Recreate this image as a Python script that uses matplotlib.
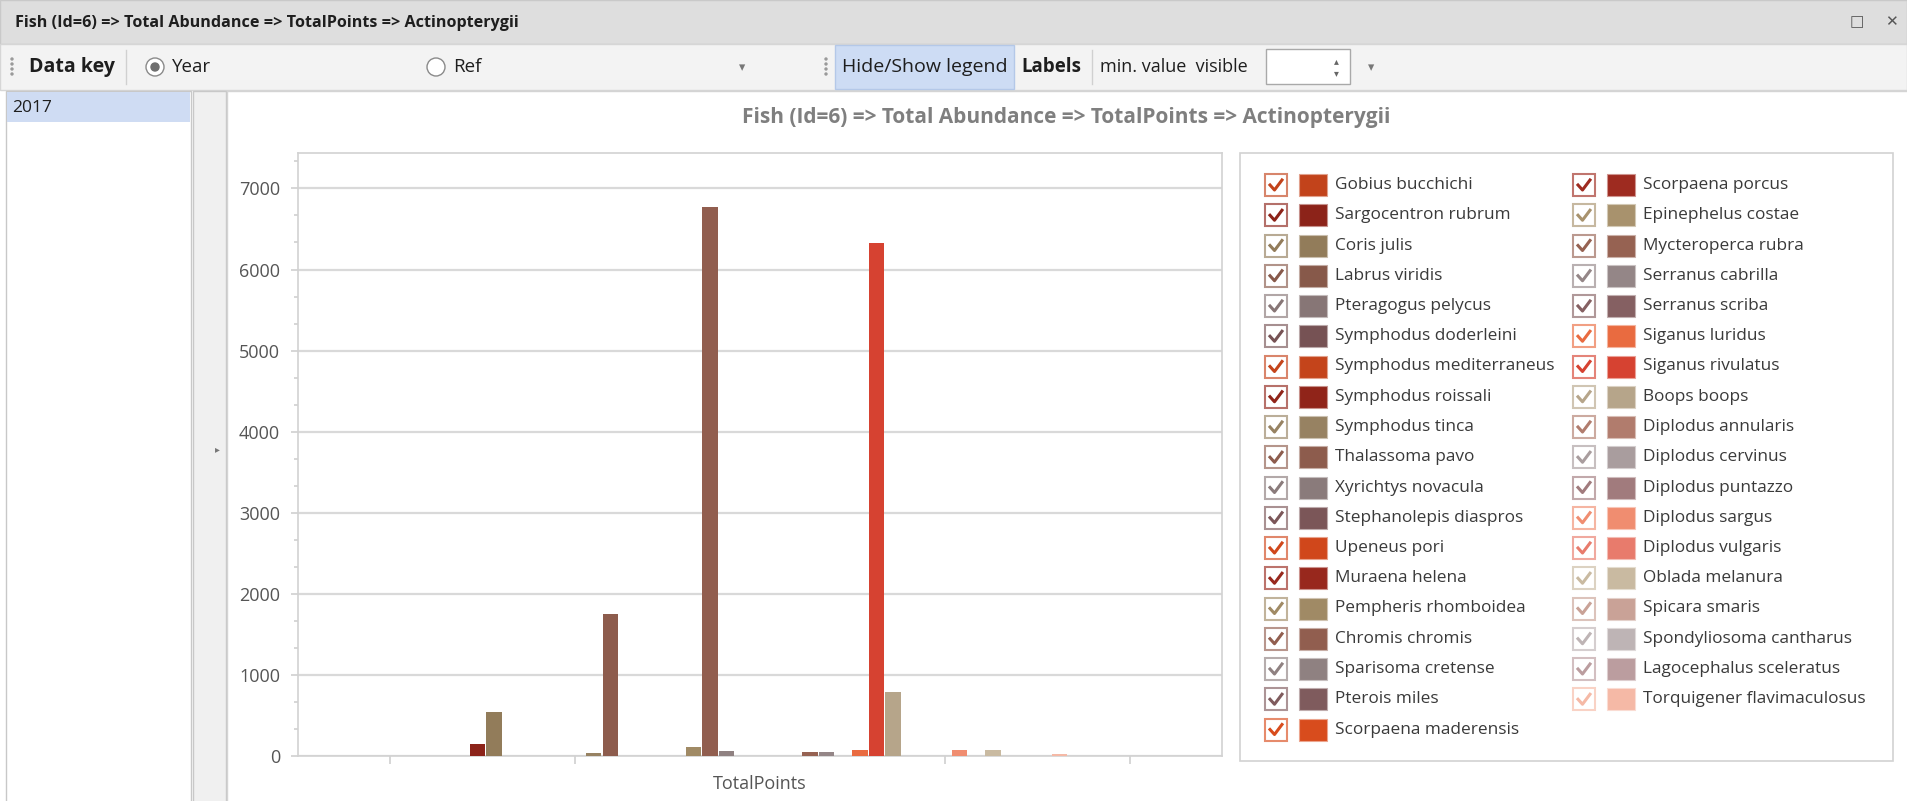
"""
Fish abundance dashboard screenshot, redrawn with matplotlib.

One argument (TotalPoints), 37 species drawn side by side, plus the
surrounding window chrome and the checkbox legend.
"""

import matplotlib
matplotlib.use("Agg")  # headless
import matplotlib.pyplot as plt
from matplotlib.patches import Rectangle, Circle
from matplotlib.lines import Line2D
from matplotlib.colors import to_rgb
import numpy as np


# --- Data ------------------------------------------------------------------

TITLE = "Fish (Id=6) => Total Abundance => TotalPoints => Actinopterygii"
CATEGORY = "TotalPoints"
YEAR = "2017"

species = [
    "Gobius bucchichi", "Sargocentron rubrum", "Coris julis", "Labrus viridis",
    "Pteragogus pelycus", "Symphodus doderleini", "Symphodus mediterraneus",
    "Symphodus roissali", "Symphodus tinca", "Thalassoma pavo",
    "Xyrichtys novacula", "Stephanolepis diaspros", "Upeneus pori",
    "Muraena helena", "Pempheris rhomboidea", "Chromis chromis",
    "Sparisoma cretense", "Pterois miles", "Scorpaena maderensis",
    "Scorpaena porcus", "Epinephelus costae", "Mycteroperca rubra",
    "Serranus cabrilla", "Serranus scriba", "Siganus luridus",
    "Siganus rivulatus", "Boops boops", "Diplodus annularis",
    "Diplodus cervinus", "Diplodus puntazzo", "Diplodus sargus",
    "Diplodus vulgaris", "Oblada melanura", "Spicara smaris",
    "Spondyliosoma cantharus", "Lagocephalus sceleratus",
    "Torquigener flavimaculosus",
]

abundance = [
    0, 150, 540, 0, 0, 0, 0, 0, 35, 1755,
    0, 0, 0, 0, 105, 6775, 65, 0, 0,
    0, 0, 55, 55, 0, 70, 6325, 795, 0, 0, 0,
    70, 0, 70, 0, 0, 0, 25,
]

colors = [
    "#c2431b", "#8c2319", "#927c5a", "#87594a", "#877676", "#765254",
    "#c4441b", "#902419", "#978262", "#8d5c4d", "#8a7b7b", "#7b5658",
    "#d0471b", "#98281d", "#a08a65", "#915e4f", "#8f8181", "#7f5b5d",
    "#d84c1d",
    "#9e2b20", "#a8926d", "#966252", "#948687", "#856062", "#e96b40",
    "#d64231", "#b6a58a", "#b17c6d", "#a99d9e", "#a17b7d", "#f08d70",
    "#e87b6c", "#c9baa1", "#c9a297", "#beb4b5", "#bb9d9f", "#f5b9a6",
]

Y_TICKS = [0, 1000, 2000, 3000, 4000, 5000, 6000, 7000]

W, H = 1907, 801


def lighten(c, amount=0.45):
    r, g, b = to_rgb(c)
    return (r + (1 - r) * amount, g + (1 - g) * amount, b + (1 - b) * amount)


plt.rcParams["font.family"] = ["Open Sans", "DejaVu Sans"]

fig = plt.figure(figsize=(W / 100, H / 100), dpi=100)
fig.patch.set_facecolor("white")

# --- Window chrome (pixel coordinates, y down) -----------------------------

ui = fig.add_axes([0, 0, 1, 1])
ui.set_xlim(0, W)
ui.set_ylim(H, 0)
ui.axis("off")


def rect(x0, y0, x1, y1, fc, ec="none", lw=1.0, z=1):
    ui.add_patch(Rectangle((x0, y0), x1 - x0, y1 - y0, facecolor=fc,
                           edgecolor=ec, linewidth=lw, zorder=z))


# title bar + toolbar
rect(0, 0, W, 44, "#dedede", ec="#c9c9c9")
rect(0, 44, W, 90, "#f3f3f3", ec="#d6d6d6")
ui.text(15, 23, TITLE, fontsize=11.6, fontweight="bold", color="#1e1e1e",
        va="center", ha="left")
ui.text(1857, 22, "□", fontsize=11, color="#555555", va="center", ha="center",
        family="DejaVu Sans")
ui.text(1891, 22, "✕", fontsize=11, color="#555555", va="center", ha="center",
        family="DejaVu Sans")

for gx in (12, 826):
    for dy in (-8, -3, 2, 7):
        ui.add_patch(Circle((gx, 67 + dy), 1.0, color="#9a9a9a", zorder=2))

ui.text(29, 67, "Data key", fontsize=14, fontweight="bold", color="#1e1e1e",
        va="center")
ui.plot([126, 126], [50, 84], color="#d0d0d0", lw=1)

ui.add_patch(Circle((155, 67), 9, facecolor="white", edgecolor="#8a8a8a",
                    lw=1, zorder=2))
ui.add_patch(Circle((155, 67), 4, color="#6f6f6f", zorder=3))
ui.text(172, 67, "Year", fontsize=13.5, color="#1e1e1e", va="center")

ui.add_patch(Circle((436, 67), 9, facecolor="white", edgecolor="#8a8a8a",
                    lw=1, zorder=2))
ui.text(453, 67, "Ref", fontsize=13.5, color="#1e1e1e", va="center")
ui.text(742, 68, "▾", fontsize=9, color="#777777", va="center", ha="center",
        family="DejaVu Sans")

rect(835, 45, 1014, 89, "#cddcf4", ec="#b4c8e8", z=1)
ui.text(842, 67, "Hide/Show legend", fontsize=14, color="#1e1e1e",
        va="center")
ui.text(1021, 67, "Labels", fontsize=13.5, fontweight="bold", color="#1e1e1e",
        va="center")
ui.plot([1092, 1092], [50, 84], color="#d0d0d0", lw=1)
ui.text(1100, 67, "min. value  visible", fontsize=13, color="#1e1e1e",
        va="center")
rect(1266, 49, 1350, 84, "white", ec="#a9a9a9", z=2)
ui.text(1336, 61, "▴", fontsize=7, color="#666666", va="center",
        ha="center", family="DejaVu Sans")
ui.text(1336, 73, "▾", fontsize=7, color="#666666", va="center",
        ha="center", family="DejaVu Sans")
ui.text(1371, 68, "▾", fontsize=9, color="#777777", va="center", ha="center",
        family="DejaVu Sans")

# left list + splitter
rect(6, 91, 191, H + 2, "white", ec="#c8c8c8")
rect(7, 92, 190, 122, "#cfdcf3")
ui.text(12, 108, YEAR, fontsize=12.5, color="#1e1e1e", va="center")
rect(193, 91, 226, H + 2, "#f0f0f0", ec="#c8c8c8")
ui.text(217, 449, "▸", fontsize=7, color="#777777", va="center",
        ha="center", family="DejaVu Sans")
rect(227, 91, W + 2, H + 2, "white", ec="#d4d4d4")

ui.text(1066, 118, TITLE, fontsize=15, fontweight="bold", color="#7f7f7f",
        va="center", ha="center")

# --- Legend with checkboxes ------------------------------------------------

rect(1240, 153, 1893, 761, "white", ec="#d2d2d2", lw=1.2)
n_rows = 19
for i, (name, c) in enumerate(zip(species, colors)):
    col, row = divmod(i, n_rows)
    cx = 1276 + col * 308
    cy = 185 + row * 30.25
    rect(cx - 11, cy - 11, cx + 11, cy + 11, "white", ec=lighten(c, 0.35),
         lw=1.5, z=2)
    ui.add_line(Line2D([cx - 6, cx - 1.5, cx + 6], [cy, cy + 5, cy - 5],
                       color=c, lw=2.2, zorder=3))
    rect(1299 + col * 308, cy - 11, 1327 + col * 308, cy + 11, c,
         ec=lighten(c, 0.5), lw=0.8, z=2)
    ui.text(1335 + col * 308, cy, name, fontsize=12.4, color="#3a3a3a",
            va="center", ha="left")

# --- Bar chart -------------------------------------------------------------

ax = fig.add_axes([298 / W, 1 - 756 / H, (1222 - 298) / W, (756 - 153) / H])
ax.set_zorder(2)

slot = 0.018
x = (np.arange(len(species)) - (len(species) - 1) / 2) * slot
ax.bar(x, abundance, width=slot * 0.93, color=colors, zorder=3)

ax.set_xlim(-0.5, 0.5)
ax.set_ylim(0, 7437)
ax.set_xticks([0])
ax.set_xticklabels([CATEGORY])
ax.set_xticks([-0.4, -0.2, 0.2, 0.4], minor=True)
ax.set_yticks(Y_TICKS)
ax.set_yticks(np.arange(0, 7437, 1000 / 3), minor=True)
ax.yaxis.grid(True, which="major", color="#d9d9d9", lw=1.6)
ax.set_axisbelow(True)

for s in ax.spines.values():
    s.set_color("#d2d2d2")
    s.set_linewidth(1.2)

ax.tick_params(axis="both", which="both", color="#cfcfcf", labelsize=13,
               labelcolor="#555555", width=1.2)
ax.tick_params(axis="y", which="major", length=5, pad=8)
ax.tick_params(axis="y", which="minor", length=3)
ax.tick_params(axis="x", which="major", length=0, pad=14)
ax.tick_params(axis="x", which="minor", length=6)

fig.savefig("out.png", dpi=100)
